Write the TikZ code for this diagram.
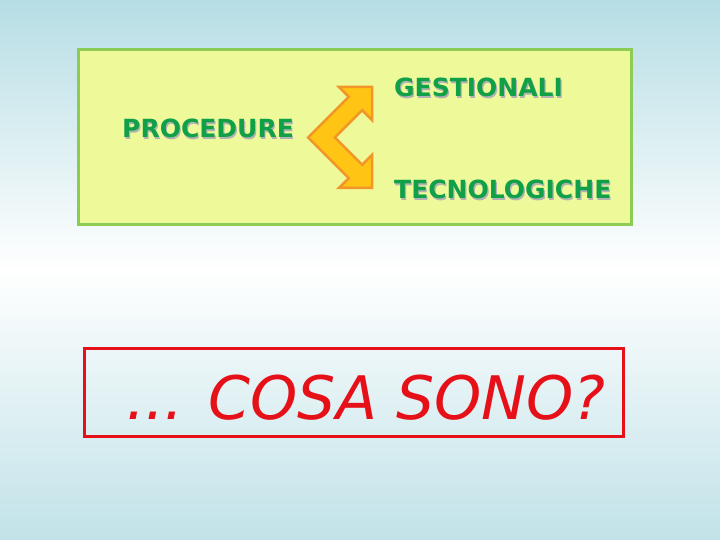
\documentclass[tikz,border=0pt]{standalone}
\usepackage{fontspec}
\setmainfont{DejaVu Sans}
\usepackage{tikz}

\definecolor{bgblue}{RGB}{182,221,228}
\definecolor{boxfill}{RGB}{238,250,154}
\definecolor{boxline}{RGB}{140,204,84}
\definecolor{wordgreen}{RGB}{16,160,72}
\definecolor{arrowfill}{RGB}{255,196,20}
\definecolor{arrowline}{RGB}{242,150,40}
\definecolor{askred}{RGB}{230,16,24}

\tikzset{
  word/.style={anchor=base west, inner sep=0pt, text=wordgreen,
    font=\fontsize{25}{30}\selectfont\bfseries},
  wordshadow/.style={anchor=base west, inner sep=0pt, text=black!30,
    font=\fontsize{25}{30}\selectfont\bfseries}
}

\begin{document}
\begin{tikzpicture}[x=1pt,y=1pt,yscale=-1,xscale=1]
\useasboundingbox (0,0) rectangle (720,540);

% background
\shade [top color=bgblue, bottom color=bgblue!85!white, middle color=white] (0,0) rectangle (720,540);

% yellow box
\draw [draw=boxline, line width=3, fill=boxfill] (78,50) rectangle (631,225);

% bent double arrow
\draw [draw=arrowline, line width=2.5, fill=arrowfill, line join=miter]
  (308.1,137.5) -- (348.8,96.8) -- (339,87) -- (372,87) -- (372,120) -- (362.2,110.2)
  -- (334.9,137.5) -- (362.2,164.8) -- (372,155) -- (372,188) -- (339,188)
  -- (348.8,178.2) -- cycle;

% words with shadow
\node [wordshadow] at (123.2,139.2) {PROCEDURE};
\node [word] (proc) at (122,138) {PROCEDURE};
\node [wordshadow] at (395.2,98.2) {GESTIONALI};
\node [word] (gest) at (394,97) {GESTIONALI};
\node [wordshadow] at (395.2,200.2) {TECNOLOGICHE};
\node [word] (tecn) at (394,199) {TECNOLOGICHE};

% question box
\draw [draw=askred, line width=3] (84,348.5) rectangle (623,436);
\node [anchor=base west, inner sep=0pt, text=askred,
  font=\fontsize{60}{70}\selectfont\itshape] (ask) at (126,419) {... COSA SONO?};

\end{tikzpicture}
\end{document}
